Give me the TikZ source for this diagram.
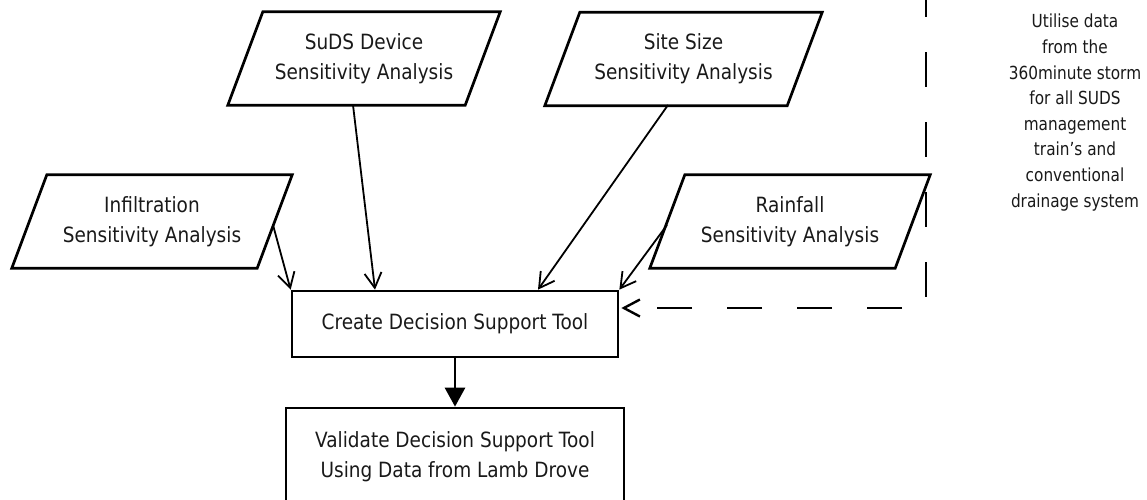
\documentclass[tikz,border=0pt]{standalone}
\usepackage{fontspec}
\setmainfont{DejaVu Sans}[FakeStretch=0.88]
\usetikzlibrary{arrows.meta}
\begin{document}
\begin{tikzpicture}[x=1pt,y=-1pt,
  txt/.style={font=\fontsize{21}{30}\selectfont, align=center, inner sep=0pt, text=black!90},
  para/.style={txt, minimum height=93pt},
  stepbox/.style={txt, draw, line width=2.7pt},
  feed/.style={line width=1.8pt, -{Straight Barb[length=15pt,width=17pt,line width=1.8pt]}},
  main/.style={line width=2.8pt, -{Triangle[length=19pt,width=20pt]}},
  loop/.style={line width=2.6pt, dash pattern=on 35pt off 35pt, -{Straight Barb[length=16pt,width=17pt,line width=2.4pt]}},
  note/.style={font=\fontsize{18.5}{25.6}\selectfont, align=center, inner sep=0pt, text=black!90}
]
\useasboundingbox (0,0) rectangle (1147,499);
\clip (0,0) rectangle (1147,499);

% parallelogram inputs
\node[para, minimum width=272pt] (suds) at (364,58.5) {SuDS Device\\Sensitivity Analysis};
\node[para, minimum width=277pt] (site) at (683.5,59) {Site Size\\Sensitivity Analysis};
\node[para, minimum width=280pt] (inf) at (152,221.5) {Infiltration\\Sensitivity Analysis};
\node[para, minimum width=280pt] (rain) at (790,221.5) {Rainfall\\Sensitivity Analysis};
\foreach \n in {suds,site,inf,rain}
  \draw[line width=2.7pt, line join=miter] (\n.south west) -- ([xshift=-35pt]\n.south east) -- (\n.north east) -- ([xshift=35pt]\n.north west) -- cycle;

% process boxes
\node[stepbox, minimum width=326pt, minimum height=66pt] (create) at (455,324) {Create Decision Support Tool};
\node[stepbox, minimum width=338pt, minimum height=98pt] (valid) at (455,457) {Validate Decision Support Tool\\Using Data from Lamb Drove};

% note
\node[note, font=\fontsize{18}{25.6}\addfontfeature{FakeStretch=0.85}] (note) at (1075,112.5) {Utilise data\\from the\\360minute storm\\for all SUDS\\management\\train's and\\conventional\\drainage system};

% connectors
\coordinate (infout) at (273,225);
\coordinate (sudsout) at (353,105);
\coordinate (siteout) at (668,105);
\coordinate (rainout) at (667,225);
\draw[feed] (infout) -- (create.north west);
\draw[feed] (sudsout) -- ([xshift=-80pt]create.north);
\draw[feed] (siteout) -- ([xshift=83pt]create.north);
\draw[feed] (rainout) -- (create.north east);
\draw[main] (create.south) -- (valid.north);

\coordinate (dtop) at (926,-18);
\coordinate (dcorner) at (926,308);
\draw[loop] (dtop) -- (dcorner) -- ([xshift=2pt]create.east |- dcorner);
\end{tikzpicture}
\end{document}
